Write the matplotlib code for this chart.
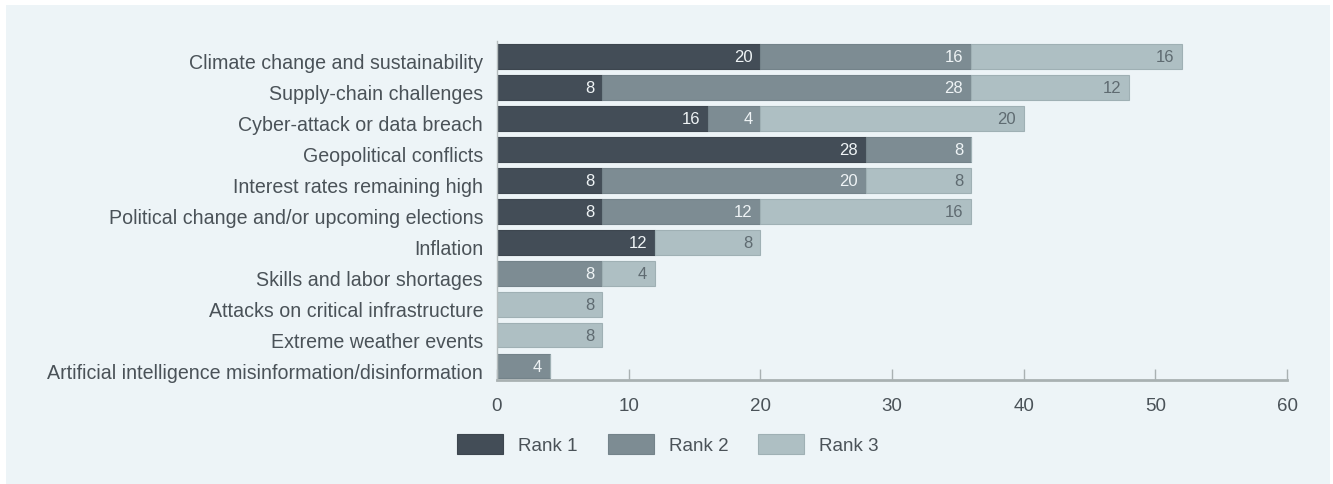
import matplotlib
matplotlib.use("Agg")
import matplotlib.pyplot as plt
from matplotlib.patches import Rectangle, Patch
from matplotlib.transforms import ScaledTranslation
import numpy as np

categories = [
    "Climate change and sustainability",
    "Supply-chain challenges",
    "Cyber-attack or data breach",
    "Geopolitical conflicts",
    "Interest rates remaining high",
    "Political change and/or upcoming elections",
    "Inflation",
    "Skills and labor shortages",
    "Attacks on critical infrastructure",
    "Extreme weather events",
    "Artificial intelligence misinformation/disinformation",
]
rank1 = [20, 8, 16, 28, 8, 8, 12, 0, 0, 0, 0]
rank2 = [16, 28, 4, 8, 20, 12, 0, 8, 0, 0, 4]
rank3 = [16, 12, 20, 0, 8, 16, 8, 4, 8, 8, 0]
series_names = ["Rank 1", "Rank 2", "Rank 3"]
x_ticks = [0, 10, 20, 30, 40, 50, 60]

colors = ["#434d57", "#7d8c93", "#aebfc3"]
edges = ["#3d464f", "#74838a", "#9fb0b4"]
label_colors = ["#eef3f5", "#eef3f5", "#5f6b71"]
panel_bg = "#edf4f7"
text_color = "#4a5258"

plt.rcParams["font.family"] = ["Liberation Sans", "DejaVu Sans"]

fig = plt.figure(figsize=(13.33, 4.85), dpi=100)
fig.patch.set_facecolor("white")
fig.patches.append(Rectangle((6 / 1333, 0), (1330 - 6) / 1333, (485 - 6) / 485,
                             transform=fig.transFigure, facecolor=panel_bg,
                             edgecolor="none", zorder=-10))

ax = fig.add_axes([497 / 1333, 1 - 381 / 485, (1287 - 497) / 1333, (381 - 42) / 485])
ax.set_facecolor("none")

y = np.arange(len(categories))
left = np.zeros(len(categories))
for vals, c, ec, lc in zip([rank1, rank2, rank3], colors, edges, label_colors):
    vals = np.array(vals, dtype=float)
    ax.barh(y, vals, left=left, height=0.8, color=c, edgecolor=ec, linewidth=0.8)
    for yi, v, l in zip(y, vals, left):
        if v > 0:
            ax.text(l + v - 0.6, yi, f"{int(v)}", ha="right", va="center",
                    fontsize=12, color=lc)
    left += vals

ax.set_ylim(len(categories) - 1 + 0.45, -0.5)
ax.set_xlim(0, 60)
ax.set_yticks(y)
ax.set_yticklabels(categories, fontsize=14.1, color=text_color)
ax.tick_params(axis="y", length=0, pad=10)
# category labels sit a touch below the bar centres
shift = ScaledTranslation(0, -4 / 100, fig.dpi_scale_trans)
for lab in ax.get_yticklabels():
    lab.set_transform(lab.get_transform() + shift)
ax.set_xticks(x_ticks)
ax.set_xticklabels([str(t) for t in x_ticks], fontsize=13.5, color=text_color)
ax.tick_params(axis="x", direction="in", length=8, width=1, color="#a9b1b2", pad=12)

for s in ["top", "right"]:
    ax.spines[s].set_visible(False)
ax.spines["bottom"].set_color("#a9b1b2")
ax.spines["bottom"].set_linewidth(2)
ax.spines["left"].set_color("#b5bcbd")
ax.spines["left"].set_linewidth(1)

handles = [Patch(facecolor=c, edgecolor=ec, linewidth=0.8) for c, ec in zip(colors, edges)]
fig.legend(handles, series_names, loc="center", bbox_to_anchor=(668 / 1333, 1 - 445 / 485),
           ncol=3, frameon=False, fontsize=13.5, handlelength=2.45, handleheight=1.25,
           handletextpad=0.8, columnspacing=1.6, labelcolor=text_color)

fig.savefig("out.png", dpi=100, facecolor=fig.get_facecolor())
